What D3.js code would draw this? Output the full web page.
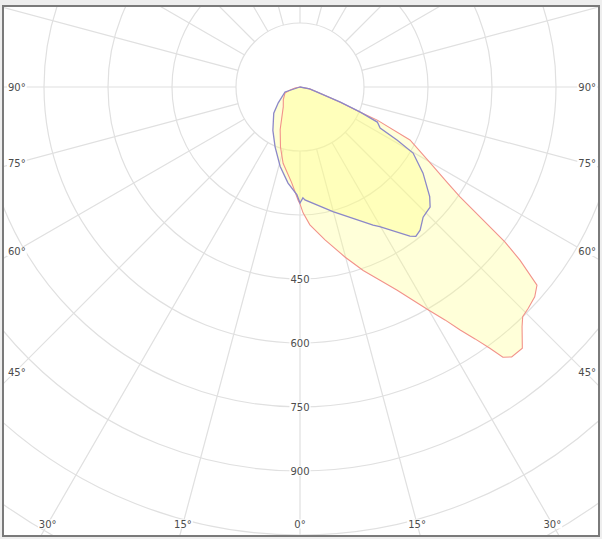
<!DOCTYPE html>
<html>
<head>
<meta charset="utf-8">
<script src="https://cdn.jsdelivr.net/npm/d3@7"></script>
<style>
  html, body { margin: 0; padding: 0; background: #eeeeee; }
  svg { display: block; }
  text { font-family: "DejaVu Sans", Verdana, sans-serif; font-size: 10px; fill: #4d4d4d; }
</style>
</head>
<body>
<svg id="chart" width="602" height="539"></svg>
<script>
// ---- data (gamma in degrees: negative = C180 half, positive = C0 half; intensity in cd) ----
const redAngles  = [-90,-79,-73,-68,-53,-40,-25,-18,-12.5,-5,-1,0,1.4,4.1,9.3,14.8,19,22.5,25.5,29.9,31.9,33.4,34.8,36,36.9,38.1,40.4,42.8,44.1,45.9,48.2,50.1,51.8,52.9,54,55.5,57.1,59.7,64.3,66.8,67.4,69.4,73.6,79,90];
const redValues  = [0,12,24,38,49,61,110,148,183,225,265,274,295,324,363,412,455,490,527,602,643,682,719,757,792,804,804,766,750,745,738,724,656,602,530,455,410,354,286,197,152,101,42,23,0];
const blueAngles = [-90,-71.6,-54,-45,-32,-22.6,-14,-7.1,-1.6,0,1.5,2.5,14.8,27.9,29.7,36.4,37.8,40,43.4,45.5,47.3,49.8,55,59.7,61.3,62.9,65.6,67.4,69.4,73.6,79,90];
const blueValues = [0,37,63,87,120,152,192,227,253,272,260,265,302,366,377,434,443,438,420,417,415,398,352,307,260,211,199,152,101,42,23,0];

const ringValues   = [150,300,450,600,750,900,1050,1200];
const ringLabels   = ["450","600","750","900"];
const sideLabels   = ["90°","75°","60°","45°"];
const sideAngles   = [90,75,60,45];
const bottomLabels = ["30°","15°","0°","15°","30°"];
const bottomAngles = [-30,-15,0,15,30];
const spokeAngles  = d3.range(0,360,15);

// ---- layout ----
const W = 602, H = 539;
const cx = 300, cy = 87;
const frame = {x: 3, y: 6, w: 596, h: 530};
const r = d3.scaleLinear().domain([0,150]).range([0,64]);
const toRad = g => Math.PI - g*Math.PI/180;   // gamma 0 points down

const svg = d3.select("#chart");
svg.append("rect").attr("x",0).attr("y",0).attr("width",W).attr("height",H).attr("fill","#eeeeee");
svg.append("rect").attr("x",frame.x).attr("y",frame.y).attr("width",frame.w).attr("height",frame.h).attr("fill","#fff");

svg.append("clipPath").attr("id","clip").append("rect")
  .attr("x",frame.x).attr("y",frame.y).attr("width",frame.w).attr("height",frame.h);

const g = svg.append("g").attr("clip-path","url(#clip)");
const c = g.append("g").attr("transform",`translate(${cx},${cy})`);

// grid rings
c.selectAll("circle.ring").data(ringValues).join("circle")
  .attr("class","ring").attr("r",d=>r(d))
  .attr("fill","none").attr("stroke","#e0e0e0").attr("stroke-width",1.2);

// spokes
c.selectAll("line.spoke").data(spokeAngles).join("line")
  .attr("class","spoke")
  .attr("x1",d=>r(150)*Math.sin(toRad(d))).attr("y1",d=>-r(150)*Math.cos(toRad(d)))
  .attr("x2",d=>900*Math.sin(toRad(d))).attr("y2",d=>-900*Math.cos(toRad(d)))
  .attr("stroke","#e0e0e0").attr("stroke-width",1.2);

// curves
const line = d3.lineRadial().angle(d=>toRad(d[0])).radius(d=>r(d[1])).curve(d3.curveLinearClosed);
const redData  = redAngles.map((a,i)=>[a,redValues[i]]);
const blueData = blueAngles.map((a,i)=>[a,blueValues[i]]);

c.append("path").attr("d",line(redData)).attr("fill","#ffff80").attr("fill-opacity",0.3).attr("stroke","none");
c.append("path").attr("d",line(blueData)).attr("fill","#ffff80").attr("fill-opacity",0.33).attr("stroke","none");
c.append("path").attr("d",line(redData)).attr("fill","none").attr("stroke","#f2928a").attr("stroke-width",1.1);
c.append("path").attr("d",line(blueData)).attr("fill","none").attr("stroke","#8c88c8").attr("stroke-width",1.3);

// labels with white background
function label(x, y, txt, anchor) {
  const t = g.append("text").attr("x",x).attr("y",y).attr("dy","0.35em")
    .attr("text-anchor",anchor).text(txt);
  const b = t.node().getBBox();
  g.insert("rect","text:last-of-type")
    .attr("x",b.x-1).attr("y",b.y+1).attr("width",b.width+2).attr("height",b.height-2)
    .attr("fill","#fff");
  t.raise();
}
ringLabels.forEach(v => label(cx, cy + r(+v), v, "middle"));
sideAngles.forEach((a,i) => {
  const dy = (cx-15)/Math.tan(a*Math.PI/180);
  label(8, cy+dy, sideLabels[i], "start");
  label(596, cy+dy, sideLabels[i], "end");
});
bottomAngles.forEach((a,i) => {
  const y = 524;
  const x = cx + (y-cy)*Math.tan(a*Math.PI/180);
  label(x, y, bottomLabels[i], "middle");
});

// frame border
svg.append("rect").attr("x",frame.x).attr("y",frame.y).attr("width",frame.w).attr("height",frame.h)
  .attr("fill","none").attr("stroke","#7a7a7a").attr("stroke-width",2);
</script>
</body>
</html>
